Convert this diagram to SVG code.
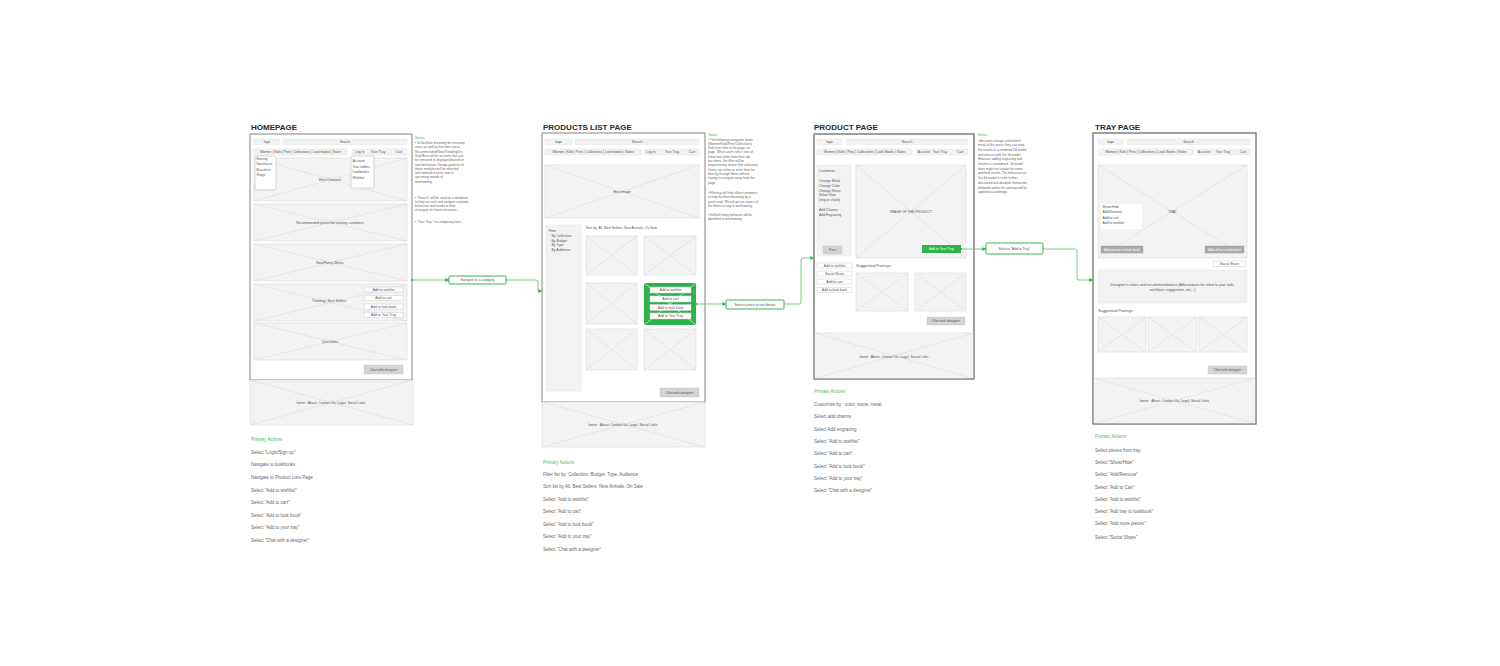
<svg xmlns="http://www.w3.org/2000/svg" width="1500" height="666" viewBox="0 0 1500 666">
<defs>
<style>
.bg{fill:#fff}
.frame{fill:#fff;stroke:#777;stroke-width:0.9}
.fo{fill:none;stroke:#777;stroke-width:0.9}
.ph{fill:#f3f3f3;stroke:#d9d9d9;stroke-width:0.6}
.xl{stroke:#d6d6d6;stroke-width:0.5;fill:none}
.bar{fill:#f2f2f2;stroke:#e2e2e2;stroke-width:0.4}
.btn{fill:#fff;stroke:#cfcfcf;stroke-width:0.5}
.gbtn{fill:#d4d4d4;stroke:#c4c4c4;stroke-width:0.4}
.dbtn{fill:#ababab;stroke:#9c9c9c;stroke-width:0.4}
.green{fill:#2eb24b}
.dd{fill:#fff;stroke:#b9b9b9;stroke-width:0.6}
.t{font-family:"Liberation Sans",Arial,sans-serif;font-size:3.4px;fill:#555}
.c{text-anchor:middle}
.w{fill:#fff}
.title{font-family:"Liberation Sans",Arial,sans-serif;font-weight:bold;font-size:8px;fill:#2a2a2a}
.act{font-family:"Liberation Sans",Arial,sans-serif;font-size:4.5px;fill:#666}
.pa{fill:#4cb85c}
.note{font-family:"Liberation Sans",Arial,sans-serif;font-size:3.2px;fill:#666}
.nh{fill:#4cb85c;font-size:3.6px}
.conn{stroke:#55bd66;stroke-width:0.8;fill:none}
.lbl{fill:#fff;stroke:#3cb54f;stroke-width:1}
.lt{font-family:"Liberation Sans",Arial,sans-serif;font-size:3.4px;fill:#555;text-anchor:middle}
</style>
<marker id="arr" viewBox="0 0 6 6" refX="5.5" refY="3" markerWidth="4" markerHeight="4" orient="auto" markerUnits="userSpaceOnUse"><path d="M0,0 L6,3 L0,6 Z" fill="#3cb54f"/></marker>
<marker id="dot" viewBox="0 0 4 4" refX="2" refY="2" markerWidth="2.4" markerHeight="2.4" markerUnits="userSpaceOnUse"><rect x="0" y="0" width="4" height="4" fill="#3cb54f"/></marker>
</defs>
<rect class="bg" x="0" y="0" width="1500" height="666"/>

<!-- HOMEPAGE -->
<g id="homepage">
<text class="title" x="251" y="129.5">HOMEPAGE</text>
<rect class="frame" x="250" y="134" width="162" height="246"/>
<rect class="bar" x="254" y="139" width="26" height="5.5"/>
<text class="t c" x="267" y="142.9">logo</text>
<rect class="bar" x="283" y="139" width="124" height="5.5"/>
<text class="t c" x="345" y="142.9">Search</text>
<rect class="bar" x="254" y="149" width="93" height="6"/>
<text class="t c" x="300.5" y="153.2">Women | Kids | Pets | Collections | Look books | Sales</text>
<rect class="bar" x="352" y="149" width="55" height="6"/>
<text class="t c" x="360" y="153.2">Log In</text>
<text class="t c" x="378" y="153.2">Your Tray</text>
<text class="t c" x="399" y="153.2">Cart</text>
<rect class="ph" x="254" y="158" width="153" height="43"/>
<path class="xl" d="M254,158 L407,201 M254,201 L407,158"/>
<text class="t c" x="330" y="180.5">Hero Carousel</text>
<rect class="dd" x="255" y="156" width="21" height="34" rx="1"/>
<text class="t" x="256.5" y="159.8">Earring</text>
<text class="t" x="256.5" y="165.3">Necklaces</text>
<text class="t" x="256.5" y="170.8">Bracelets</text>
<text class="t" x="256.5" y="176.3">Rings</text>
<rect class="dd" x="351" y="156" width="23" height="32" rx="1"/>
<text class="t" x="352.5" y="162.2">Account</text>
<text class="t" x="352.5" y="167.7">Your orders</text>
<text class="t" x="352.5" y="173.2">Lookbooks</text>
<text class="t" x="352.5" y="178.7">Wishlist</text>
<rect class="ph" x="254" y="204" width="153" height="37"/>
<path class="xl" d="M254,204 L407,241 M254,241 L407,204"/>
<text class="t c" x="330" y="223.5">Recommended pieces for existing customers</text>
<rect class="ph" x="254" y="244" width="153" height="37"/>
<path class="xl" d="M254,244 L407,281 M254,281 L407,244"/>
<text class="t c" x="330" y="263.5">New/Fancy Works</text>
<rect class="ph" x="254" y="284" width="153" height="37"/>
<path class="xl" d="M254,284 L407,321 M254,321 L407,284"/>
<text class="t c" x="329" y="302">Trending / Best Sellers</text>
<rect class="btn" x="364" y="287" width="39" height="5"/>
<text class="t c" x="383.5" y="290.7">Add to wishlist</text>
<rect class="btn" x="364" y="295.5" width="39" height="5"/>
<text class="t c" x="383.5" y="299.2">Add to cart</text>
<rect class="btn" x="364" y="304" width="39" height="5"/>
<text class="t c" x="383.5" y="307.7">Add to look book</text>
<rect class="btn" x="364" y="312.5" width="39" height="5"/>
<text class="t c" x="383.5" y="316.2">Add to Your Tray</text>
<rect class="ph" x="254" y="323" width="153" height="37"/>
<path class="xl" d="M254,323 L407,360 M254,360 L407,323"/>
<text class="t c" x="330" y="342.5">Quiz Items</text>
<rect class="gbtn" x="364" y="365" width="39" height="9"/>
<text class="t c" x="383.5" y="370.7">Chat with designer</text>
<rect class="ph" x="250" y="380" width="163" height="45"/>
<path class="xl" d="M250,380 L413,425 M250,425 L413,380"/>
<text class="t c" x="331" y="403.7">footer : About, Contact Us, Legal, Social Links</text>
<text class="note nh" x="415" y="138.5">Notes</text>
<text class="note" x="415" y="144">• To facilitate browsing for returning</text>
<text class="note" x="415" y="148.3">users as well as first time users,</text>
<text class="note" x="415" y="152.6">Recommended/New/Trending/On</text>
<text class="note" x="415" y="156.9">Sale/Best will be sections that can</text>
<text class="note" x="415" y="161.2">be removed or displayed based on</text>
<text class="note" x="415" y="165.5">user behaviour. Design patterns of</text>
<text class="note" x="415" y="169.8">these modules will be inherited</text>
<text class="note" x="415" y="174.1">and tailored to each user in</text>
<text class="note" x="415" y="178.4">upcoming rounds of</text>
<text class="note" x="415" y="182.7">wireframing.</text>
<text class="note" x="415" y="198.5">• "Search" will be used as a database</text>
<text class="note" x="415" y="202.8">to help us track and analyze customer</text>
<text class="note" x="415" y="207.1">behaviour and needs to help</text>
<text class="note" x="415" y="211.4">strategize for future iterations.</text>
<text class="note" x="415" y="223">• "Your Tray" is a temporary item...</text>
<text class="act pa" x="251" y="440.6">Primary Actions</text>
<text class="act" x="251" y="453.6">Select "Login/Sign up"</text>
<text class="act" x="251" y="465.6">Navigate to lookbooks</text>
<text class="act" x="251" y="478.6">Navigate to Product Lists Page</text>
<text class="act" x="251" y="491.6">Select "Add to wishlist"</text>
<text class="act" x="251" y="503.6">Select "Add to cart"</text>
<text class="act" x="251" y="516.6">Select "Add to look book"</text>
<text class="act" x="251" y="528.6">Select "Add to your tray"</text>
<text class="act" x="251" y="541.6">Select "Chat with a designer"</text>
</g>

<!-- PRODUCTS LIST PAGE -->
<g id="products-list-page">
<text class="title" x="543" y="129.5">PRODUCTS LIST PAGE</text>
<rect class="frame" x="542" y="133" width="163" height="269"/>
<rect class="bar" x="545" y="139" width="27" height="5.5"/>
<text class="t c" x="558.5" y="142.9">logo</text>
<rect class="bar" x="575" y="139" width="124" height="5.5"/>
<text class="t c" x="637" y="142.9">Search</text>
<rect class="bar" x="545" y="149" width="96" height="6"/>
<text class="t c" x="593" y="153.2">Women | Kids | Pets | Collections | Look books | Sales</text>
<rect class="bar" x="644" y="149" width="55" height="6"/>
<text class="t c" x="651" y="153.2">Log In</text>
<text class="t c" x="672" y="153.2">Your Tray</text>
<text class="t c" x="692" y="153.2">Cart</text>
<rect class="ph" x="545" y="165" width="154" height="53"/>
<path class="xl" d="M545,165 L699,218 M545,218 L699,165"/>
<text class="t c" x="622" y="192.5">Hero Image</text>
<rect class="bar" x="546" y="225" width="35" height="166"/>
<text class="t" x="548.5" y="232.2">Filter</text>
<text class="t" x="551.5" y="237">By Collection</text>
<text class="t" x="551.5" y="241.6">By Budget</text>
<text class="t" x="551.5" y="246.2">By Type</text>
<text class="t" x="551.5" y="250.8">By Audience</text>
<text class="t" x="586" y="229">Sort by: All, Best Sellers, New Arrivals, On Sale</text>
<rect class="ph" x="586" y="236" width="51" height="39"/>
<path class="xl" d="M586,236 L637,275 M586,275 L637,236"/>
<rect class="ph" x="644" y="236" width="52" height="39"/>
<path class="xl" d="M644,236 L696,275 M644,275 L696,236"/>
<rect class="ph" x="586" y="283" width="51" height="41"/>
<path class="xl" d="M586,283 L637,324 M586,324 L637,283"/>
<rect class="green" x="644" y="283" width="52" height="42"/>
<path d="M644,283 L696,325 M644,325 L696,283" stroke="#fff" stroke-width="0.6"/>
<rect class="btn" x="650" y="287" width="41" height="6" stroke="#2a9e44"/>
<text class="t c" x="670.5" y="291.2">Add to wishlist</text>
<rect class="btn" x="650" y="296" width="41" height="6" stroke="#2a9e44"/>
<text class="t c" x="670.5" y="300.2">Add to cart</text>
<rect class="btn" x="650" y="304.5" width="41" height="6" stroke="#2a9e44"/>
<text class="t c" x="670.5" y="308.7">Add to look book</text>
<rect class="btn" x="650" y="313" width="41" height="6" stroke="#2a9e44"/>
<text class="t c" x="670.5" y="317.2">Add to Your Tray</text>
<rect class="ph" x="586" y="329" width="51" height="41"/>
<path class="xl" d="M586,329 L637,370 M586,370 L637,329"/>
<rect class="ph" x="644" y="329" width="52" height="41"/>
<path class="xl" d="M644,329 L696,370 M644,370 L696,329"/>
<rect class="gbtn" x="660" y="388" width="39" height="9"/>
<text class="t c" x="679.5" y="393.7">Chat with designer</text>
<rect class="ph" x="542" y="402" width="163" height="45"/>
<path class="xl" d="M542,402 L705,447 M542,447 L705,402"/>
<text class="t c" x="623" y="426.2">footer : About, Contact Us, Legal, Social Links</text>
<text class="note nh" x="708" y="135.5">Notes</text>
<text class="note" x="708" y="140.5">• The following navigation items</text>
<text class="note" x="708" y="144.8">(Women/Kids/Pets/Collections)</text>
<text class="note" x="708" y="149.1">Selection links to list page, no</text>
<text class="note" x="708" y="153.4">page. When users select one of</text>
<text class="note" x="708" y="157.7">these two items from their tab</text>
<text class="note" x="708" y="162">bar items, the filter will be</text>
<text class="note" x="708" y="166.3">progressively shown (the selection).</text>
<text class="note" x="708" y="170.6">Users can refine or reset their list</text>
<text class="note" x="708" y="174.9">directly through filters without</text>
<text class="note" x="708" y="179.2">having to navigate away from the</text>
<text class="note" x="708" y="183.5">page.</text>
<text class="note" x="708" y="194">• Filtering will help allow customers</text>
<text class="note" x="708" y="198.3">to help facilitate browsing by a</text>
<text class="note" x="708" y="202.6">quick read. We will put an aspect of</text>
<text class="note" x="708" y="206.9">the filters to stay in wireframing.</text>
<text class="note" x="708" y="216">• Default listing behavior will be</text>
<text class="note" x="708" y="220.3">identified in wireframing.</text>
<text class="act pa" x="543" y="463.6">Primary Actions</text>
<text class="act" x="543" y="475.6">Filter list by: Collection, Budget, Type, Audience</text>
<text class="act" x="543" y="487.6">Sort list by All, Best Sellers, New Arrivals, On Sale</text>
<text class="act" x="543" y="500.6">Select "Add to wishlist"</text>
<text class="act" x="543" y="513.1">Select "Add to cart"</text>
<text class="act" x="543" y="525.6">Select "Add to look book"</text>
<text class="act" x="543" y="538.1">Select "Add to your tray"</text>
<text class="act" x="543" y="550.6">Select "Chat with a designer"</text>
</g>

<!-- PRODUCT PAGE -->
<g id="product-page">
<text class="title" x="814" y="129.5">PRODUCT PAGE</text>
<rect class="frame" x="814" y="134" width="160" height="245"/>
<rect class="bar" x="817" y="139" width="25" height="5.5"/>
<text class="t c" x="829.5" y="142.9">logo</text>
<rect class="bar" x="846" y="139" width="122" height="5.5"/>
<text class="t c" x="907" y="142.9">Search</text>
<rect class="bar" x="817" y="149" width="95" height="6"/>
<text class="t c" x="864.5" y="153.2">Women | Kids | Pets | Collections | Look Books | Sales</text>
<rect class="bar" x="916" y="149" width="52" height="6"/>
<text class="t c" x="924" y="153.2">Account</text>
<text class="t c" x="940" y="153.2">Your Tray</text>
<text class="t c" x="960" y="153.2">Cart</text>
<rect class="bar" x="817" y="165" width="34" height="91"/>
<text class="t" x="819" y="172.2">Customize</text>
<text class="t" x="819" y="182">Change Metal</text>
<text class="t" x="819" y="186.8">Change Color</text>
<text class="t" x="819" y="191.6">Change Stone</text>
<text class="t" x="819" y="196.4">Select Size</text>
<text class="t" x="819" y="201.2">(ring or chain)</text>
<text class="t" x="819" y="211">Add Charms</text>
<text class="t" x="819" y="215.8">Add Engraving</text>
<rect class="gbtn" x="823" y="246" width="19" height="8"/>
<text class="t c" x="832.5" y="251.2">Price</text>
<rect class="ph" x="856" y="165" width="110" height="93"/>
<path class="xl" d="M856,165 L966,258 M856,258 L966,165"/>
<text class="t c" x="911" y="212.5">IMAGE OF THE PRODUCT</text>
<rect class="green" x="922" y="245" width="39" height="8"/>
<text class="t c w" x="941.5" y="250.2">Add to Your Tray</text>
<rect class="btn" x="817" y="263" width="35" height="5"/>
<text class="t c" x="834.5" y="266.7">Add to wishlist</text>
<rect class="btn" x="817" y="271" width="35" height="5"/>
<text class="t c" x="834.5" y="274.7">Social Share</text>
<rect class="btn" x="817" y="279" width="35" height="5"/>
<text class="t c" x="834.5" y="282.7">Add to cart</text>
<rect class="btn" x="817" y="287.5" width="35" height="5"/>
<text class="t c" x="834.5" y="291.2">Add to look book</text>
<text class="t" x="856" y="266.5" style="font-size:4px">Suggested Pairings</text>
<rect class="ph" x="856" y="273" width="52" height="38"/>
<path class="xl" d="M856,273 L908,311 M856,311 L908,273"/>
<rect class="ph" x="915" y="273" width="51" height="38"/>
<path class="xl" d="M915,273 L966,311 M915,311 L966,273"/>
<rect class="gbtn" x="927" y="317" width="38" height="8"/>
<text class="t c" x="946" y="322.2">Chat with designer</text>
<rect class="ph" x="814.5" y="333" width="159" height="45.5"/>
<path class="xl" d="M814.5,333 L973.5,378.5 M814.5,378.5 L973.5,333"/>
<text class="t c" x="894" y="357.5">footer : About, Contact Us, Legal, Social Links</text>
<rect class="fo" x="814" y="134" width="160" height="245"/>
<text class="note nh" x="978" y="136">Notes</text>
<text class="note" x="978" y="141.5">• As users change color/stone/</text>
<text class="note" x="978" y="146.2">metal of the piece, they can view</text>
<text class="note" x="978" y="150.9">the results in a rendered 3d model</text>
<text class="note" x="978" y="155.6">and interact with the 3d model.</text>
<text class="note" x="978" y="160.3">However adding engraving and</text>
<text class="note" x="978" y="165">charms is considered. 3d model</text>
<text class="note" x="978" y="169.7">does might not create the same</text>
<text class="note" x="978" y="174.4">polished results. The behaviour of</text>
<text class="note" x="978" y="179.1">the 3d model is to be further</text>
<text class="note" x="978" y="183.8">discussed and decided. Interaction</text>
<text class="note" x="978" y="188.5">elements within the sitemap will be</text>
<text class="note" x="978" y="193.2">updated accordingly.</text>
<text class="act pa" x="814" y="392.6">Primary Actions</text>
<text class="act" x="814" y="405.6">Customize by : color, stone, metal</text>
<text class="act" x="814" y="417.6">Select add charms</text>
<text class="act" x="814" y="430.6">Select Add engraving</text>
<text class="act" x="814" y="442.6">Select  "Add to wishlist"</text>
<text class="act" x="814" y="454.6">Select  "Add to cart"</text>
<text class="act" x="814" y="467.6">Select  "Add to look book"</text>
<text class="act" x="814" y="479.6">Select  "Add to your tray"</text>
<text class="act" x="814" y="491.6">Select  "Chat with a designer"</text>
</g>

<!-- TRAY PAGE -->
<g id="tray-page">
<text class="title" x="1095" y="129.5">TRAY PAGE</text>
<rect class="frame" x="1093" y="133" width="163" height="291"/>
<rect class="bar" x="1098" y="139" width="25" height="5.5"/>
<text class="t c" x="1110.5" y="142.9">logo</text>
<rect class="bar" x="1127" y="139" width="123" height="5.5"/>
<text class="t c" x="1188.5" y="142.9">Search</text>
<rect class="bar" x="1098" y="149" width="96" height="6"/>
<text class="t c" x="1146" y="153.2">Women | Kids | Pets | Collections | Look Books | Sales</text>
<rect class="bar" x="1197" y="149" width="53" height="6"/>
<text class="t c" x="1204" y="153.2">Account</text>
<text class="t c" x="1223" y="153.2">Your Tray</text>
<text class="t c" x="1243" y="153.2">Cart</text>
<rect class="ph" x="1098" y="165" width="149" height="93"/>
<path class="xl" d="M1098,165 L1247,258 M1098,258 L1247,165"/>
<text class="t c" x="1172.5" y="212.5">TRAY</text>
<rect x="1101" y="204" width="41" height="25" fill="#fff"/>
<text class="t" x="1102.5" y="208.2">Show/Hide</text>
<text class="t" x="1102.5" y="213.2">Add/Remove</text>
<text class="t" x="1102.5" y="218.7">Add to cart</text>
<text class="t" x="1102.5" y="224.2">Add to wishlist</text>
<rect class="dbtn" x="1101" y="246" width="42" height="7"/>
<text class="t c w" x="1122" y="250.7">Add pieces to look book</text>
<rect class="dbtn" x="1205" y="246" width="39" height="7"/>
<text class="t c w" x="1224.5" y="250.7">Add all to cart/wishlist</text>
<rect class="btn" x="1213" y="261" width="33" height="5.5"/>
<text class="t c" x="1229.5" y="265">Social Share</text>
<rect class="bar" x="1098" y="270" width="149" height="33"/>
<text class="t c" x="1172.5" y="285.5" style="font-size:3.8px">Designer's notes and recommendations (Alternatives for what to pair with,</text>
<text class="t c" x="1172.5" y="290.5" style="font-size:3.8px">necklace suggestion, etc...)</text>
<text class="t" x="1098" y="311.5" style="font-size:4px">Suggested Pairings</text>
<rect class="ph" x="1098" y="317" width="48" height="35"/>
<path class="xl" d="M1098,317 L1146,352 M1098,352 L1146,317"/>
<rect class="ph" x="1148" y="317" width="49" height="35"/>
<path class="xl" d="M1148,317 L1197,352 M1148,352 L1197,317"/>
<rect class="ph" x="1199" y="317" width="48" height="35"/>
<path class="xl" d="M1199,317 L1247,352 M1199,352 L1247,317"/>
<rect class="gbtn" x="1208" y="366" width="39" height="8"/>
<text class="t c" x="1227.5" y="371.2">Chat with designer</text>
<rect class="ph" x="1093.5" y="378" width="162" height="45.5"/>
<path class="xl" d="M1093.5,378 L1255.5,423.5 M1093.5,423.5 L1255.5,378"/>
<text class="t c" x="1174.5" y="402.2">footer : About, Contact Us, Legal, Social Links</text>
<rect class="fo" x="1093" y="133" width="163" height="291"/>
<text class="act pa" x="1095" y="437.6">Primary Actions</text>
<text class="act" x="1095" y="451.6">Select pieces from tray</text>
<text class="act" x="1095" y="463.6">Select "Show/Hide"</text>
<text class="act" x="1095" y="475.6">Select "Add/Remove"</text>
<text class="act" x="1095" y="488.6">Select "Add to Cart"</text>
<text class="act" x="1095" y="500.6">Select "Add to wishlist"</text>
<text class="act" x="1095" y="512.6">Select "Add tray to lookbook"</text>
<text class="act" x="1095" y="524.6">Select "Add more pieces"</text>
<text class="act" x="1095" y="538.6">Select "Social Share"</text>
</g>

<!-- CONNECTORS -->
<g id="connectors">
<path class="conn" d="M412,280 H449" marker-start="url(#dot)" marker-end="url(#arr)"/>
<rect class="lbl" x="449" y="276" width="57" height="8" rx="1"/>
<text class="lt" x="477.5" y="281.2">Navigate to a category</text>
<path class="conn" d="M506,280 H536 Q538,280 538,282 V291 H542" marker-end="url(#arr)"/>
<path class="conn" d="M696,304 H726" marker-start="url(#dot)" marker-end="url(#arr)"/>
<rect class="lbl" x="726" y="300" width="58" height="9" rx="1"/>
<text class="lt" x="755" y="305.7">Selects piece to see details</text>
<path class="conn" d="M784,304 H799 Q801,304 801,302 V260 Q801,258 803,258 H814" marker-end="url(#arr)"/>
<path class="conn" d="M961,249 H986" marker-start="url(#dot)" marker-end="url(#arr)"/>
<rect class="lbl" x="986" y="243" width="57" height="11" rx="1"/>
<text class="lt" x="1014.5" y="249.7">Selects "Add to Tray"</text>
<path class="conn" d="M1043,249 H1075 Q1077,249 1077,251 V278 Q1077,280 1079,280 H1093" marker-end="url(#arr)"/>
</g>
</svg>
